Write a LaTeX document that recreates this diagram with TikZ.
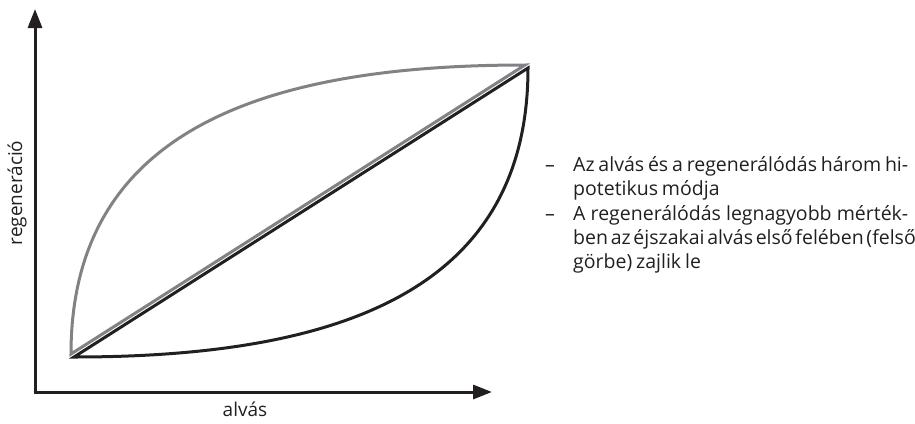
\documentclass[tikz,border=0pt]{standalone}
\usepackage{fontspec}
\setmainfont{Open Sans}
\usetikzlibrary{arrows.meta}
\definecolor{ink}{HTML}{231F20}
\definecolor{curvegray}{HTML}{808285}
\newcommand\mybodyfont{\fontsize{19.5pt}{24pt}\selectfont\spaceskip 0.2em plus 0.4em minus 0.06em\relax}
\tikzset{
  axis/.style={draw=ink, line width=3pt, -{Triangle[length=19pt,width=14pt]}},
  graycurve/.style={draw=curvegray, line width=3pt, line join=miter},
  blackcurve/.style={draw=ink, line width=3pt, line join=miter},
  lbl/.style={font=\fontsize{19pt}{24pt}\selectfont, text=ink, inner sep=0pt},
  bodytext/.style={font=\mybodyfont, text=ink, inner sep=0pt, anchor=base west},
  dashmark/.style={bodytext},
}
\begin{document}
\begin{tikzpicture}[x=1pt,y=-1pt]
\useasboundingbox (0,0) rectangle (915,423);
% axes
\coordinate (O) at (35,392);
\coordinate (ytip) at (35,9);
\coordinate (xtip) at (492,392);
\draw[axis] ([yshift=-1.5pt]O) -- (ytip);
\draw[axis] ([xshift=-1.5pt]O) -- (xtip);
% gray curve (upper) + gray diagonal
\coordinate (g0) at (71,354);
\coordinate (g1) at (525,65);
\draw[graycurve] (g0) .. controls (71,135) and (255,65) .. (g1) -- cycle;
% black curve (lower) + black diagonal
\coordinate (b0) at (74,357);
\coordinate (b1) at (528,68);
\draw[blackcurve] (b0) -- (b1) .. controls (528,288) and (344,357) .. cycle;
% axis labels
\node[lbl, rotate=90, anchor=base] (ylab) at (22,193) {regeneráció};
\node[lbl, anchor=base] (xlab) at (245,416) {alvás};
% bullet text
\node[dashmark] (d1) at (545,171) {–};
\node[bodytext] (t1) at (573,171) {\makebox[335pt][s]{Az alvás és a regenerálódás három hi-}};
\node[bodytext] (t2) at (573,195) {potetikus módja};
\node[dashmark] (d2) at (545,220) {–};
\node[bodytext] (t3) at (573,220) {\makebox[335pt][s]{A regenerálódás legnagyobb mérték-}};
\node[bodytext] (t4) at (573,244) {\makebox[335pt][s]{ben az éjszakai alvás első felében (felső}};
\node[bodytext] (t5) at (573,268) {görbe) zajlik le};
\end{tikzpicture}
\end{document}
